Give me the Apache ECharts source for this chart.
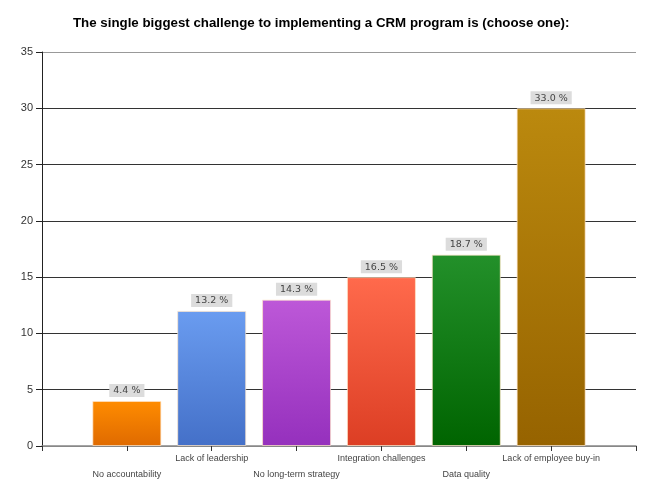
<!DOCTYPE html>
<html>
<head>
<meta charset="utf-8">
<script src="https://cdn.jsdelivr.net/npm/echarts@6/dist/echarts.min.js"></script>
<style>html,body{margin:0;padding:0;background:#fff}#c{width:662px;height:495px}</style>
</head>
<body>
<div id="c"></div>
<script>
var categories = ['', 'No accountability', 'Lack of leadership', 'No long-term strategy', 'Integration challenges', 'Data quality', 'Lack of employee buy-in', ''];
var values = [null, 4, 12, 13, 15, 17, 30, null];
var percentLabels = ['', '4.4 %', '13.2 %', '14.3 %', '16.5 %', '18.7 %', '33.0 %', ''];
var yTicks = [0, 5, 10, 15, 20, 25, 30, 35];
var colorPairs = [
  null,
  ['#ff8c00', '#df6a00'],
  ['#6a9cf0', '#4470c8'],
  ['#bd58d8', '#9530bd'],
  ['#ff6a4c', '#dc3e24'],
  ['#23902a', '#006400'],
  ['#bb890e', '#966300'],
  null
];

var chart = echarts.init(document.getElementById('c'));
chart.setOption({
  animation: false,
  title: {
    text: 'The single biggest challenge to implementing a CRM program is (choose one):',
    left: 68, top: 12,
    textStyle: {fontFamily: 'Liberation Sans', fontSize: 13.3, fontWeight: 'bold', color: '#000'}
  },
  grid: {left: 42, right: 26, top: 52, bottom: 49},
  xAxis: {
    type: 'category',
    data: categories,
    boundaryGap: false,
    axisLine: {lineStyle: {color: '#888', width: 1.5}},
    axisTick: {alignWithLabel: true, length: 5, lineStyle: {color: '#333'}},
    axisLabel: {
      interval: 0,
      fontFamily: 'Liberation Sans', fontSize: 9, color: '#444',
      margin: 5, lineHeight: 16,
      formatter: function (v, i) { return (i % 2 === 1) ? '\n' + v : v; }
    }
  },
  yAxis: {
    type: 'value', min: 0, max: 35, interval: 5,
    axisLine: {show: true, lineStyle: {color: '#222'}},
    axisTick: {show: true, length: 6, lineStyle: {color: '#222'}},
    axisLabel: {fontFamily: 'Liberation Sans', fontSize: 11, color: '#333', margin: 9,
      formatter: function (v) { return yTicks.indexOf(v) >= 0 ? String(v) : ''; }},
    splitLine: {lineStyle: {color: ['#888', '#333', '#333', '#333', '#333', '#333', '#333', '#999'], width: 1}}
  },
  series: [{
    type: 'bar',
    barWidth: 69,
    data: values.map(function (v, i) {
      if (v === null) return null;
      return {
        value: v,
        itemStyle: {
          color: new echarts.graphic.LinearGradient(0, 0, 0, 1, [
            {offset: 0, color: colorPairs[i][0]},
            {offset: 1, color: colorPairs[i][1]}
          ]),
          borderColor: 'rgba(255,230,200,0.7)', borderWidth: 1
        }
      };
    }),
    label: {
      show: true, position: 'top', distance: 4,
      formatter: function (p) { return percentLabels[p.dataIndex]; },
      backgroundColor: '#dcdcdc', padding: [2, 4, 1, 4],
      fontFamily: 'DejaVu Sans', fontSize: 9.5, color: '#444'
    }
  }]
});
</script>
</body>
</html>
